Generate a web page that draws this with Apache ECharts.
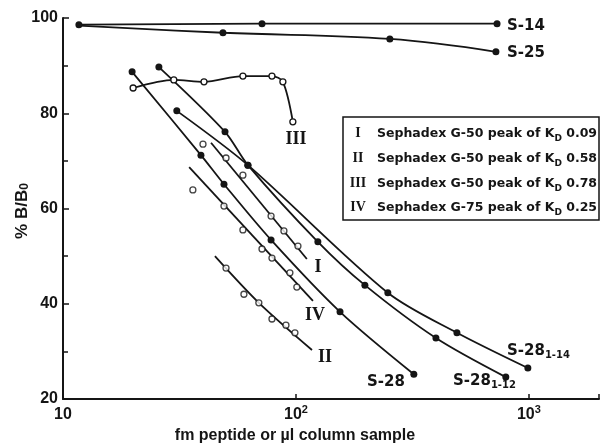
<!DOCTYPE html>
<html><head><meta charset="utf-8">
<script src="https://cdn.jsdelivr.net/npm/echarts@6/dist/echarts.min.js"></script>
<style>html,body{margin:0;padding:0;background:#fff}#c{width:602px;height:444px}</style>
</head><body><div id="c"></div>
<script>
// ---- data ----
const xTicks = [10, 100, 1000];
const yTicks = [20, 40, 60, 80, 100];

const s14X = [11.7, 71.5, 730];
const s14Y = [98.6, 98.8, 98.8];
const s25X = [11.7, 48.6, 253, 722];
const s25Y = [98.4, 96.9, 95.6, 92.9];
const s28X = [19.8, 39.1, 49.1, 78.2, 154.6, 320.7];
const s28Y = [88.7, 71.2, 65.1, 53.4, 38.3, 25.2];
const s2812X = [25.8, 49.6, 62.2, 124.2, 197.7, 399, 796];
const s2812Y = [89.7, 76.1, 69.1, 53.0, 43.9, 32.8, 24.6];
const s2814X = [30.8, 62.2, 248, 491, 990];
const s2814Y = [80.5, 69.1, 42.3, 33.9, 26.5];

const g3X = [20.0, 29.9, 40.3, 59.2, 78.9, 87.9, 97.0];
const g3Y = [85.3, 87.0, 86.6, 87.8, 87.8, 86.6, 78.2];

const g1X = [39.9, 50.1, 59.2, 78.2, 88.8, 102];
const g1Y = [73.5, 70.6, 67.0, 58.4, 55.3, 52.1];
const g1LineX = [43.2, 111.4];
const g1LineY = [73.8, 49.4];

const g4X = [36.1, 49.1, 59.2, 71.5, 78.9, 94.2, 100.9];
const g4Y = [63.9, 60.5, 55.5, 51.5, 49.6, 46.5, 43.5];
const g4LineX = [34.8, 118.3];
const g4LineY = [68.7, 40.6];

const g2X = [50.1, 59.8, 69.3, 78.9, 90.6, 99.0];
const g2Y = [47.5, 42.0, 40.2, 36.8, 35.5, 33.9];
const g2LineX = [44.9, 69.3, 117.2];
const g2LineY = [50.0, 40.2, 30.3];

const legNum = ['I', 'II', 'III', 'IV'];
const legGel = ['G-50', 'G-50', 'G-50', 'G-75'];
const legKd = ['0.09', '0.58', '0.78', '0.25'];

// ---- styling ----
const INK = '#151515';
const zip = (xs, ys) => xs.map((x, i) => [x, ys[i]]);
const filled = { symbol: 'circle', symbolSize: 7, itemStyle: { color: INK } };
const open = { symbol: 'circle', symbolSize: 6, itemStyle: { color: '#fff', borderColor: INK, borderWidth: 1.3 } };
const lineSt = { color: INK, width: 1.8 };

function curve(xs, ys, sym, smooth, extra) {
  return Object.assign({
    type: 'line', data: zip(xs, ys), smooth: smooth, showSymbol: true,
    lineStyle: lineSt, animation: false, z: 3
  }, sym, extra || {});
}
function fit(xs, ys, smooth) {
  return { type: 'line', data: zip(xs, ys), smooth: smooth || 0, showSymbol: false, symbol: 'none',
    lineStyle: lineSt, animation: false, z: 2 };
}
function dots(xs, ys) {
  return Object.assign({ type: 'scatter', data: zip(xs, ys), animation: false, z: 4 }, open);
}

const s25Data = zip(s25X, s25Y);
s25Data[0] = { value: s25Data[0], symbol: 'none' };

const chart = echarts.init(document.getElementById('c'), null, { renderer: 'canvas' });
const SANS = '"Liberation Sans", Arial, sans-serif';
const WIDE = '"DejaVu Sans", sans-serif';
const SERIF = '"Liberation Serif", "Times New Roman", serif';

const graphics = [];
function txt(x, y, text, opts) {
  graphics.push({ type: 'text', x: x, y: y, z: 100, rotation: opts.rotation || 0,
    style: Object.assign({ text: text, fill: INK, fontWeight: 'bold', align: 'left', verticalAlign: 'middle' }, opts.style) });
}
const subRich = (fs, fam) => ({
  m: { fontSize: fs, fontWeight: 'bold', fontFamily: fam, lineHeight: 18, fill: INK },
  s: { fontSize: Math.round(fs * 0.68), fontWeight: 'bold', fontFamily: fam, lineHeight: 9, verticalAlign: 'bottom', fill: INK }
});

// axis titles
txt(295, 436, 'fm peptide or µl column sample', { style: { fontFamily: SANS, fontSize: 16, align: 'center' } });
txt(22, 211, '{m|% B/B}{s|0}', { rotation: Math.PI / 2, style: { align: 'center', rich: subRich(17, SANS) } });

// curve labels
txt(507, 26, '{m|S-14}', { style: { rich: subRich(15, WIDE) } });
txt(507, 53, '{m|S-25}', { style: { rich: subRich(15, WIDE) } });
txt(507, 351, '{m|S-28}{s|1-14}', { style: { rich: subRich(15, WIDE) } });
txt(453, 381, '{m|S-28}{s|1-12}', { style: { rich: subRich(15, WIDE) } });
txt(367, 382, '{m|S-28}', { style: { rich: subRich(15, WIDE) } });

// roman labels on curves
txt(296, 139, 'III', { style: { fontFamily: SERIF, fontSize: 18, align: 'center' } });
txt(318, 267, 'I', { style: { fontFamily: SERIF, fontSize: 18, align: 'center' } });
txt(315, 315, 'IV', { style: { fontFamily: SERIF, fontSize: 18, align: 'center' } });
txt(325, 357, 'II', { style: { fontFamily: SERIF, fontSize: 18, align: 'center' } });

// legend box
graphics.push({ type: 'rect', z: 90, shape: { x: 343, y: 117, width: 256, height: 103 },
  style: { fill: '#fff', stroke: INK, lineWidth: 1.5 } });
const rowY = [133, 158, 183, 207];
legNum.forEach((n, i) => {
  txt(358, rowY[i], n, { style: { fontFamily: SERIF, fontSize: 14, align: 'center' } });
  txt(377, rowY[i] + 1, '{m|Sephadex ' + legGel[i] + ' peak of K}{s|D}{m| ' + legKd[i] + '}',
    { style: { rich: subRich(12.5, WIDE) } });
});

chart.setOption({
  backgroundColor: '#fff',
  animation: false,
  grid: { left: 63, right: 3, top: 18, bottom: 45, containLabel: false, outerBoundsMode: 'none' },
  xAxis: {
    type: 'log', logBase: 10, min: 10, max: 2000,
    axisLine: { show: true, onZero: false, lineStyle: { color: INK, width: 2 } },
    axisTick: { show: true, inside: true, length: 5, lineStyle: { color: INK, width: 1.5 } },
    minorTick: { show: false },
    splitLine: { show: false },
    axisLabel: {
      margin: 5, color: INK, fontSize: 16, fontWeight: 'bold', fontFamily: SANS, lineHeight: 22,
      formatter: function (v) {
        const e = Math.round(Math.log10(v));
        if (Math.abs(Math.log10(v) - e) > 1e-6 || xTicks.indexOf(Math.pow(10, e)) < 0) return '';
        return e === 1 ? '10' : '10{sup|' + e + '}';
      },
      rich: { sup: { fontSize: 11, fontWeight: 'bold', fontFamily: SANS, color: INK, verticalAlign: 'top', lineHeight: 10 } }
    }
  },
  yAxis: {
    type: 'value', min: yTicks[0], max: yTicks[yTicks.length - 1], interval: 20,
    axisLine: { show: true, onZero: false, lineStyle: { color: INK, width: 2 } },
    axisTick: { show: true, inside: true, length: 6, lineStyle: { color: INK, width: 1.5 } },
    minorTick: { show: true, splitNumber: 2, length: 5, lineStyle: { color: INK, width: 1.5 } },
    splitLine: { show: false },
    axisLabel: { margin: 5, color: INK, fontSize: 16, fontWeight: 'bold', fontFamily: SANS }
  },
  series: [
    curve(s14X, s14Y, filled, 0.2),
    Object.assign(curve(s25X, s25Y, filled, 0.4), { data: s25Data }),
    curve(s28X, s28Y, filled, 0.3),
    curve(s2812X, s2812Y, filled, 0.3),
    curve(s2814X, s2814Y, filled, 0.3),
    curve(g3X, g3Y, open, 0.3),
    fit(g1LineX, g1LineY), dots(g1X, g1Y),
    fit(g4LineX, g4LineY), dots(g4X, g4Y),
    fit(g2LineX, g2LineY, 0.3), dots(g2X, g2Y)
  ],
  graphic: graphics
});
</script>
</body></html>
